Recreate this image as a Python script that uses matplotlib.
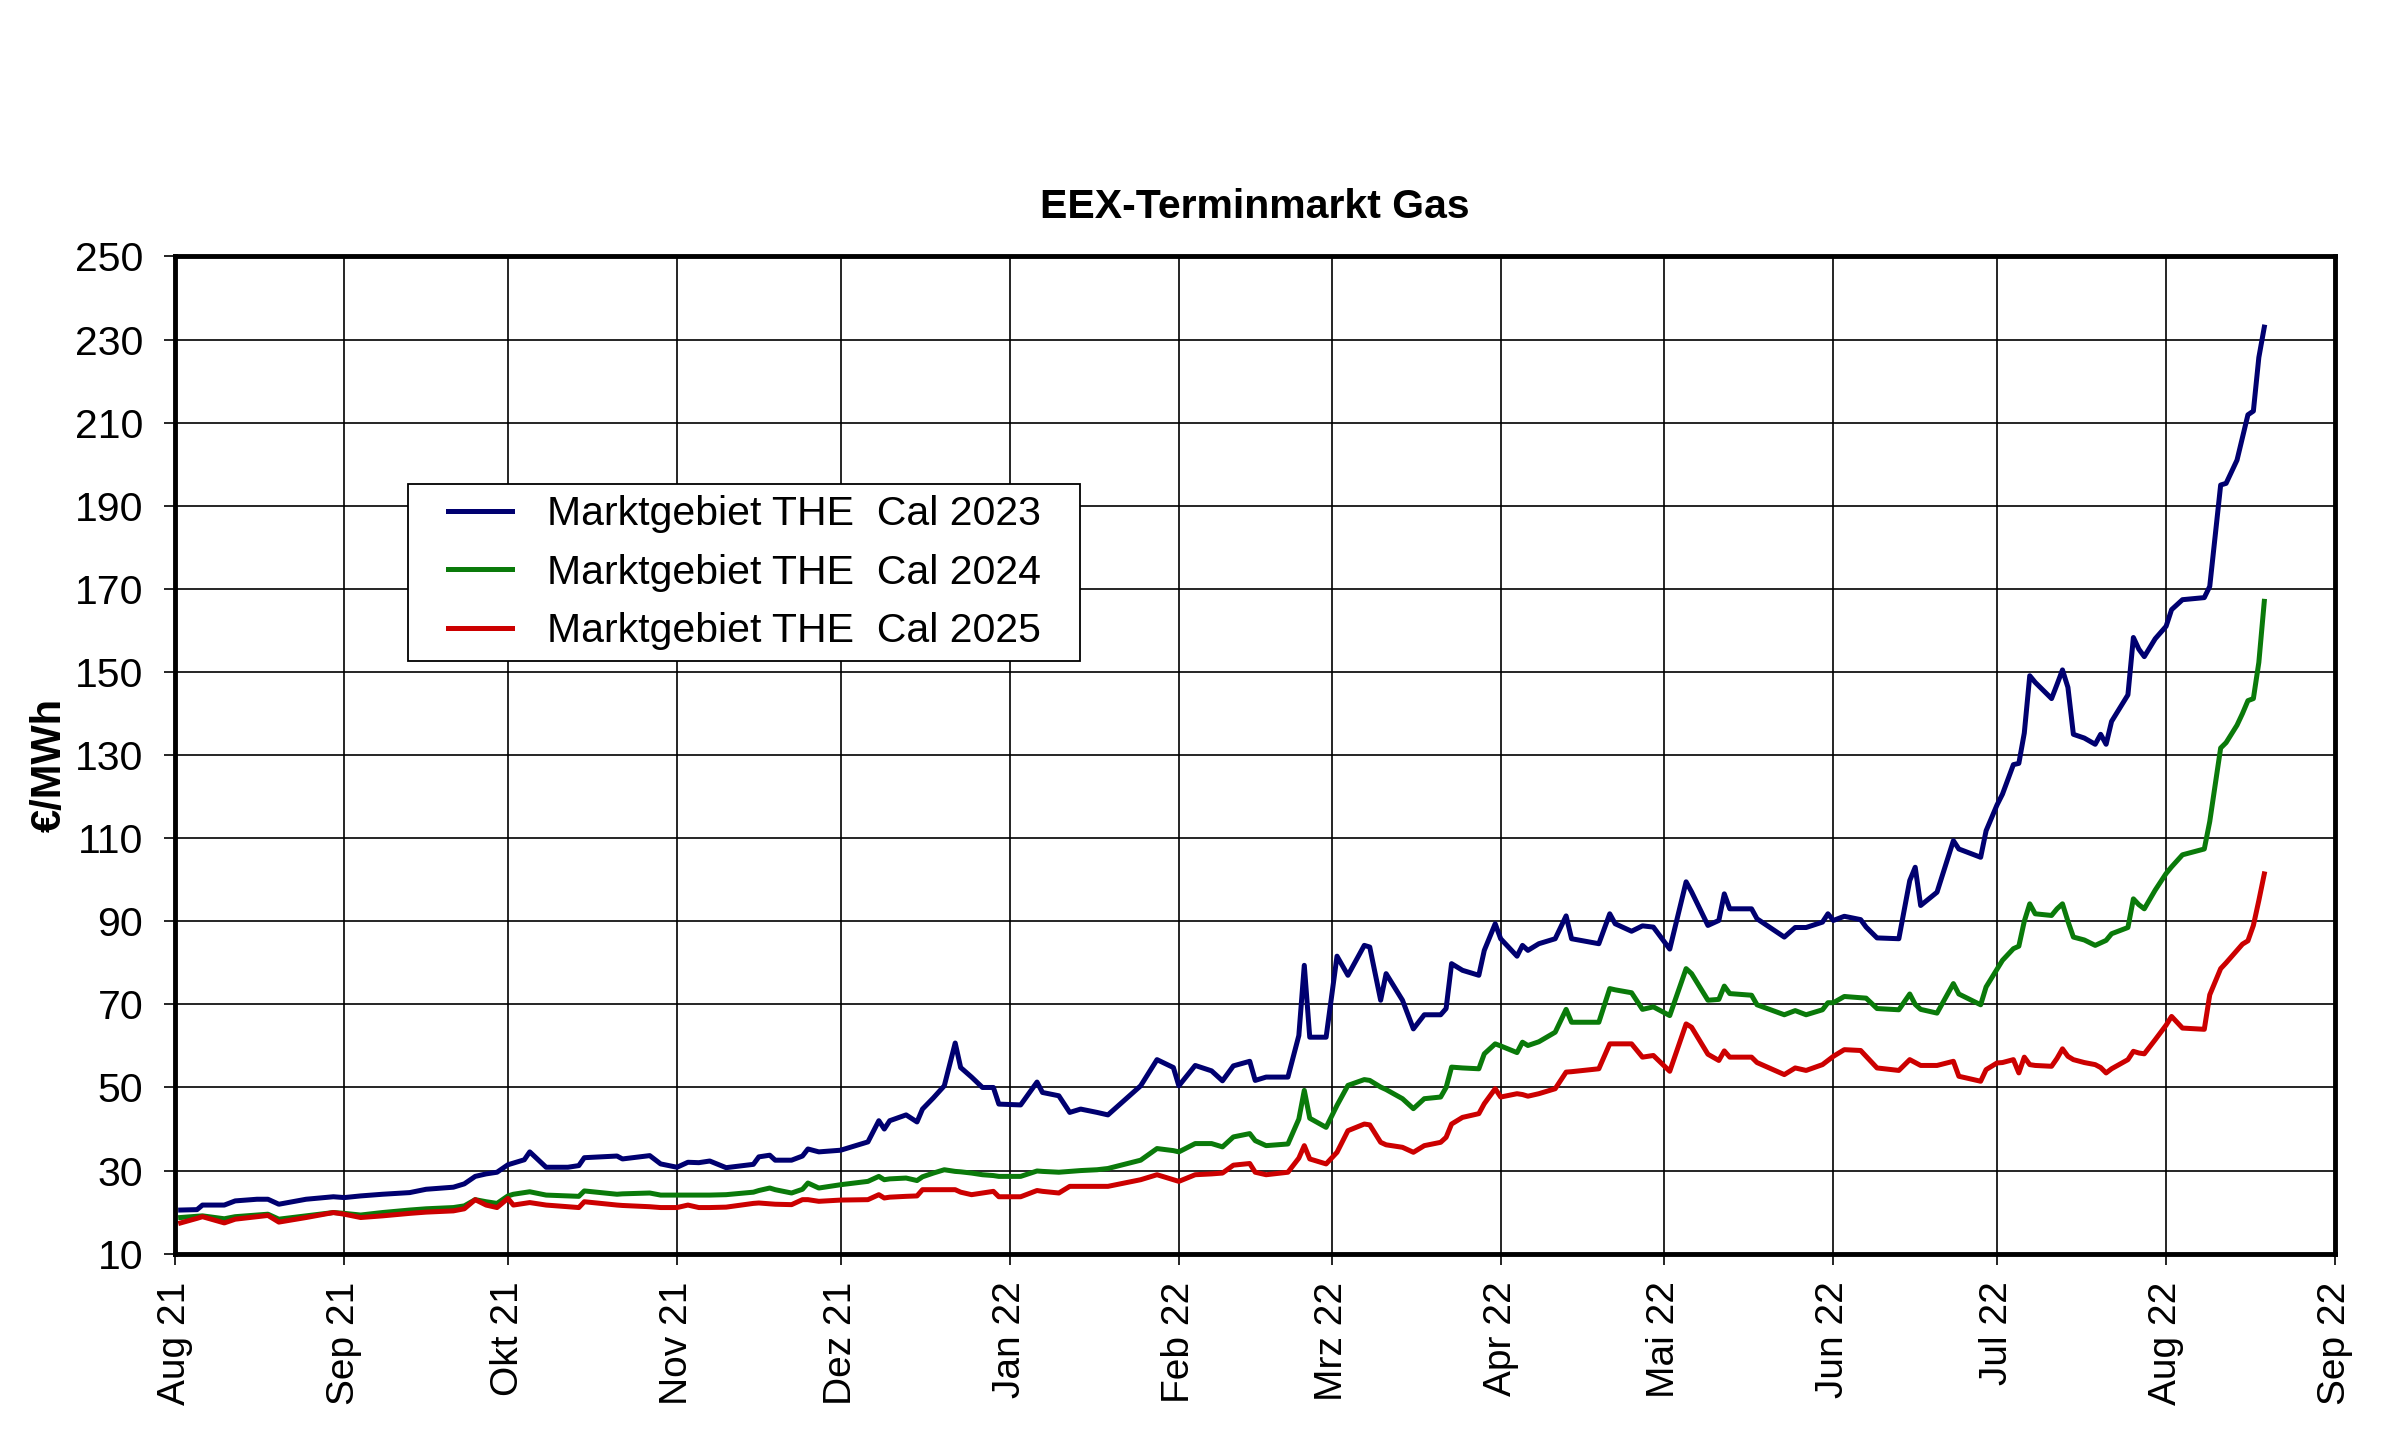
import matplotlib
matplotlib.use("Agg")
import matplotlib.pyplot as plt
from matplotlib.patches import Rectangle
import pandas as pd

plt.rcParams['font.family'] = ['Liberation Sans', 'DejaVu Sans']

# trading days
dates = [
    "2021-08-02", "2021-08-05", "2021-08-06", "2021-08-10", "2021-08-12", "2021-08-16", "2021-08-18",
    "2021-08-20", "2021-08-25", "2021-08-30", "2021-09-01", "2021-09-04", "2021-09-08", "2021-09-13",
    "2021-09-16", "2021-09-21", "2021-09-23", "2021-09-25", "2021-09-27", "2021-09-29", "2021-10-01",
    "2021-10-02", "2021-10-04", "2021-10-05", "2021-10-08", "2021-10-12", "2021-10-14", "2021-10-15",
    "2021-10-21", "2021-10-22", "2021-10-27", "2021-10-29", "2021-11-01", "2021-11-03", "2021-11-05",
    "2021-11-07", "2021-11-10", "2021-11-15", "2021-11-16", "2021-11-18", "2021-11-19", "2021-11-22",
    "2021-11-24", "2021-11-25", "2021-11-27", "2021-12-01", "2021-12-06", "2021-12-08", "2021-12-09",
    "2021-12-10", "2021-12-13", "2021-12-15", "2021-12-16", "2021-12-18", "2021-12-20", "2021-12-22",
    "2021-12-23", "2021-12-25", "2021-12-27", "2021-12-29", "2021-12-30", "2022-01-03", "2022-01-06",
    "2022-01-07", "2022-01-10", "2022-01-12", "2022-01-14", "2022-01-17", "2022-01-19", "2022-01-25",
    "2022-01-28", "2022-01-31", "2022-02-01", "2022-02-04", "2022-02-07", "2022-02-09", "2022-02-11",
    "2022-02-14", "2022-02-15", "2022-02-17", "2022-02-21", "2022-02-23", "2022-02-24", "2022-02-25",
    "2022-02-28", "2022-03-02", "2022-03-04", "2022-03-07", "2022-03-08", "2022-03-10", "2022-03-11",
    "2022-03-14", "2022-03-16", "2022-03-18", "2022-03-21", "2022-03-22", "2022-03-23", "2022-03-25",
    "2022-03-28", "2022-03-29", "2022-03-31", "2022-04-01", "2022-04-04", "2022-04-05", "2022-04-06",
    "2022-04-08", "2022-04-11", "2022-04-13", "2022-04-14", "2022-04-19", "2022-04-21", "2022-04-22",
    "2022-04-25", "2022-04-27", "2022-04-29", "2022-05-02", "2022-05-05", "2022-05-06", "2022-05-09",
    "2022-05-11", "2022-05-12", "2022-05-13", "2022-05-17", "2022-05-18", "2022-05-23", "2022-05-25",
    "2022-05-27", "2022-05-30", "2022-05-31", "2022-06-01", "2022-06-03", "2022-06-06", "2022-06-07",
    "2022-06-09", "2022-06-13", "2022-06-15", "2022-06-16", "2022-06-17", "2022-06-20", "2022-06-23",
    "2022-06-24", "2022-06-28", "2022-06-29", "2022-07-01", "2022-07-02", "2022-07-04", "2022-07-05",
    "2022-07-06", "2022-07-07", "2022-07-08", "2022-07-11", "2022-07-12", "2022-07-13", "2022-07-14",
    "2022-07-15", "2022-07-17", "2022-07-19", "2022-07-20", "2022-07-21", "2022-07-22", "2022-07-25",
    "2022-07-26", "2022-07-27", "2022-07-28", "2022-07-30", "2022-08-01", "2022-08-02", "2022-08-04",
    "2022-08-08", "2022-08-09", "2022-08-11", "2022-08-12", "2022-08-14", "2022-08-15", "2022-08-16",
    "2022-08-17", "2022-08-18", "2022-08-19",
]

cal2023 = [
    20.5, 20.6, 21.7, 21.7, 22.7, 23.1, 23.1, 21.9, 23.1, 23.7, 23.5, 23.9, 24.3, 24.7,
    25.5, 26.0, 26.8, 28.6, 29.2, 29.6, 31.4, 31.8, 32.6, 34.5, 30.8, 30.8, 31.2, 33.1,
    33.5, 32.8, 33.6, 31.6, 30.8, 32.0, 31.9, 32.3, 30.7, 31.5, 33.3, 33.7, 32.5, 32.5,
    33.5, 35.2, 34.5, 34.9, 36.9, 42.0, 40.0, 42.0, 43.4, 41.7, 44.8, 47.5, 50.4, 60.7,
    54.8, 52.5, 50.0, 50.0, 46.0, 45.8, 51.3, 48.8, 48.0, 44.0, 44.8, 44.0, 43.4, 50.4,
    56.7, 54.8, 50.4, 55.3, 54.0, 51.6, 55.2, 56.3, 51.7, 52.5, 52.5, 62.5, 79.4, 62.1,
    62.1, 81.6, 77.0, 84.2, 83.8, 71.0, 77.4, 71.0, 64.1, 67.5, 67.5, 69.0, 79.8, 78.2,
    77.0, 83.0, 89.4, 85.8, 81.6, 84.2, 83.0, 84.6, 85.8, 91.3, 85.8, 84.6, 91.8, 89.4,
    87.6, 88.9, 88.6, 83.3, 99.5, 97.1, 89.0, 90.2, 96.6, 93.0, 93.0, 90.6, 86.2, 88.5,
    88.5, 89.8, 91.8, 90.2, 91.2, 90.4, 88.6, 86.0, 85.8, 99.8, 103.0, 93.8, 97.0, 109.4,
    107.4, 105.4, 111.8, 118.0, 120.6, 127.7, 128.0, 135.3, 149.1, 147.5, 143.6, 147.0, 150.5,
    146.3, 135.0, 134.1, 132.6, 135.0, 132.6, 138.1, 144.5, 158.3, 155.5, 153.7, 158.0, 161.0,
    165.0, 167.4, 167.9, 170.6, 195.0, 195.4, 201.0, 206.4, 211.9, 212.8, 225.7, 233.0,
]

cal2024 = [
    18.7, 19.0, 19.1, 18.4, 18.9, 19.3, 19.5, 18.3, 19.1, 19.9, 19.7, 19.3, 19.9, 20.5,
    20.8, 21.1, 21.5, 23.0, 22.5, 22.1, 23.9, 24.3, 24.7, 24.9, 24.1, 23.9, 23.8, 25.1,
    24.3, 24.4, 24.6, 24.1, 24.1, 24.1, 24.1, 24.1, 24.2, 24.8, 25.2, 25.8, 25.4, 24.6,
    25.5, 27.0, 25.8, 26.6, 27.4, 28.6, 27.8, 28.0, 28.2, 27.6, 28.5, 29.4, 30.2, 29.8,
    29.7, 29.4, 29.0, 28.8, 28.6, 28.6, 29.9, 29.8, 29.6, 29.8, 30.0, 30.2, 30.5, 32.5,
    35.3, 34.8, 34.5, 36.5, 36.5, 35.7, 38.1, 38.9, 37.2, 36.0, 36.4, 42.4, 49.3, 42.6,
    40.4, 45.7, 50.5, 51.9, 51.7, 50.1, 49.5, 47.3, 44.9, 47.3, 47.7, 50.0, 54.9, 54.7,
    54.5, 58.1, 60.5, 60.0, 58.4, 60.9, 60.1, 61.0, 63.3, 68.8, 65.7, 65.7, 73.8, 73.5,
    72.8, 68.8, 69.4, 67.3, 78.6, 77.4, 71.0, 71.2, 74.4, 72.6, 72.2, 69.9, 67.5, 68.5,
    67.5, 68.7, 70.4, 70.4, 71.9, 71.6, 71.5, 69.0, 68.7, 72.5, 70.0, 68.8, 67.9, 75.0,
    72.5, 69.9, 74.2, 78.5, 80.6, 83.4, 84.0, 90.0, 94.2, 91.8, 91.4, 93.0, 94.2,
    90.0, 86.2, 85.5, 84.2, 84.8, 85.4, 87.0, 88.5, 95.4, 94.0, 93.0, 97.5, 101.5,
    103.1, 106.0, 107.4, 114.0, 131.7, 133.0, 137.2, 140.0, 143.1, 143.6, 152.3, 167.0,
]

cal2025 = [
    17.4, 18.5, 18.9, 17.4, 18.3, 18.9, 19.2, 17.6, 18.7, 19.9, 19.5, 18.7, 19.1, 19.7,
    20.0, 20.3, 20.8, 23.0, 21.7, 21.1, 23.3, 21.7, 22.1, 22.3, 21.7, 21.3, 21.1, 22.5,
    21.7, 21.6, 21.3, 21.1, 21.1, 21.7, 21.1, 21.1, 21.2, 22.1, 22.2, 22.0, 21.9, 21.8,
    23.0, 23.0, 22.6, 22.9, 23.0, 24.2, 23.4, 23.6, 23.8, 23.9, 25.4, 25.4, 25.4, 25.4,
    24.8, 24.2, 24.6, 25.0, 23.7, 23.7, 25.2, 25.0, 24.6, 26.2, 26.2, 26.2, 26.2, 27.8,
    29.0, 27.8, 27.4, 29.0, 29.2, 29.4, 31.3, 31.7, 29.6, 29.0, 29.6, 33.0, 36.0, 32.8,
    31.6, 34.4, 39.6, 41.2, 41.0, 36.8, 36.2, 35.6, 34.4, 36.0, 36.8, 38.0, 41.2, 42.8,
    43.7, 46.1, 49.7, 47.7, 48.5, 48.3, 47.9, 48.5, 49.7, 53.7, 53.8, 54.5, 60.5, 60.5,
    60.5, 57.3, 57.7, 53.9, 65.3, 64.5, 58.0, 56.5, 58.8, 57.3, 57.3, 56.0, 53.1, 54.7,
    54.1, 55.5, 56.5, 57.5, 59.1, 58.9, 57.5, 54.7, 54.1, 56.7, 56.0, 55.3, 55.3, 56.3,
    52.7, 51.5, 54.3, 55.9, 56.0, 56.7, 53.5, 57.3, 55.5, 55.3, 55.1, 57.0, 59.3,
    57.5, 56.7, 56.0, 55.5, 54.8, 53.5, 54.5, 56.7, 58.7, 58.3, 58.1, 61.5, 65.0,
    67.1, 64.3, 64.0, 72.3, 78.6, 80.0, 83.0, 84.5, 85.3, 89.0, 95.0, 101.4,
]

series_labels = ["Marktgebiet THE  Cal 2023", "Marktgebiet THE  Cal 2024", "Marktgebiet THE  Cal 2025"]
series_colors = ["#000070", "#0A7A0A", "#CC0000"]

tick_dates = ["2021-08-01", "2021-09-01", "2021-10-01", "2021-11-01", "2021-12-01", "2022-01-01",
              "2022-02-01", "2022-03-01", "2022-04-01", "2022-05-01", "2022-06-01", "2022-07-01",
              "2022-08-01", "2022-09-01"]
tick_labels = ["Aug 21", "Sep 21", "Okt 21", "Nov 21", "Dez 21", "Jan 22", "Feb 22", "Mrz 22",
               "Apr 22", "Mai 22", "Jun 22", "Jul 22", "Aug 22", "Sep 22"]
y_ticks = list(range(10, 251, 20))

x = pd.to_datetime(dates)
xt = pd.to_datetime(tick_dates)

fig = plt.figure(figsize=(24, 14.41), dpi=100)
ax = fig.add_axes([0.073, 0.130, 0.900, 0.692])

for vals, lab, col in zip([cal2023, cal2024, cal2025], series_labels, series_colors):
    ax.plot(x, vals, color=col, linewidth=3.6, label=lab, solid_joinstyle="round")

ax.set_xlim(xt[0], xt[-1])
ax.set_ylim(10, 250)
ax.set_yticks(y_ticks)
ax.set_xticks(xt)
ax.set_xticklabels(tick_labels, rotation=90)
ax.tick_params(axis="both", length=8, width=1.2, direction="out")
ax.tick_params(axis="y", labelsize=29.5, pad=15)
ax.tick_params(axis="x", labelsize=28, pad=12)
ax.grid(True, color="black", linewidth=1.2)
ax.set_axisbelow(True)
for sp in ax.spines.values():
    sp.set_linewidth(3.5)

ax.set_title("EEX-Terminmarkt Gas", fontsize=29.5, fontweight="bold", pad=28)
ax.set_ylabel("€/MWh", fontsize=30, fontweight="bold")
ax.yaxis.set_label_coords(-0.049, 0.49)

# legend box drawn separately so the padding matches the original
box = Rectangle((0.108, 0.594), 0.311, 0.178, transform=ax.transAxes,
                facecolor="white", edgecolor="black", linewidth=1.3, zorder=4)
ax.add_patch(box)
leg = ax.legend(loc="center", bbox_to_anchor=(0.2635, 0.683), frameon=False,
                fontsize=29.5, handlelength=1.55, handletextpad=0.85,
                borderpad=0, labelspacing=0.5)
leg.set_zorder(5)

plt.savefig("out.png", dpi=100)
